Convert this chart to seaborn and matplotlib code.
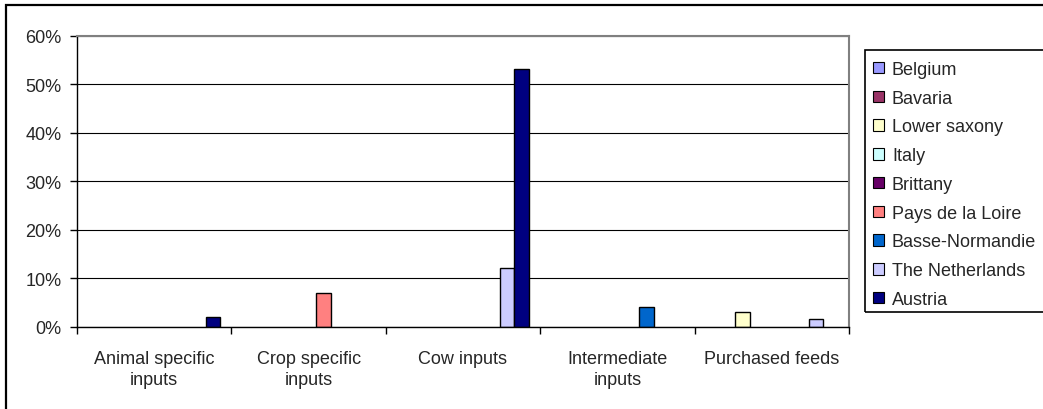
import matplotlib
matplotlib.use("Agg")
import matplotlib.pyplot as plt
from matplotlib.patches import Rectangle
from matplotlib.ticker import FuncFormatter, FixedLocator
import seaborn as sns
import pandas as pd

# ---- data ----
categories = ["Animal specific\ninputs", "Crop specific\ninputs", "Cow inputs",
              "Intermediate\ninputs", "Purchased feeds"]
series = ["Belgium", "Bavaria", "Lower saxony", "Italy", "Brittany",
          "Pays de la Loire", "Basse-Normandie", "The Netherlands", "Austria"]
belgium = [0.0, 0.0, 0.0, 0.0, 0.0]
bavaria = [0.0, 0.0, 0.0, 0.0, 0.0]
lower_saxony = [0.0, 0.0, 0.0, 0.0, 0.030]
italy = [0.0, 0.0, 0.0, 0.0, 0.0]
brittany = [0.0, 0.0, 0.0, 0.0, 0.0]
pays_de_la_loire = [0.0, 0.070, 0.0, 0.0, 0.0]
basse_normandie = [0.0, 0.0, 0.0, 0.041, 0.0]
the_netherlands = [0.0, 0.0, 0.120, 0.0, 0.0145]
austria = [0.019, 0.0, 0.531, 0.0, 0.0]
colors = ["#9999FF", "#993366", "#FFFFCC", "#CCFFFF", "#660066",
          "#FF8080", "#0066CC", "#CCCCFF", "#000080"]
y_ticks = [0.0, 0.1, 0.2, 0.3, 0.4, 0.5, 0.6]

values = [belgium, bavaria, lower_saxony, italy, brittany,
          pays_de_la_loire, basse_normandie, the_netherlands, austria]
rows = []
for s, vals in zip(series, values):
    for c, v in zip(categories, vals):
        rows.append({"category": c, "series": s, "value": v})
df = pd.DataFrame(rows)

sns.set_theme(style="white")
plt.rcParams["font.family"] = ["Liberation Sans", "DejaVu Sans"]
FS = 13

W, H = 1043, 410
fig = plt.figure(figsize=(W / 100, H / 100), dpi=100)
ax_left, ax_right, ax_top, ax_bottom = 77, 849, 37, 327.5
ax = fig.add_axes([ax_left / W, 1 - ax_bottom / H, (ax_right - ax_left) / W,
                   (ax_bottom - ax_top) / H])

sns.barplot(data=df, x="category", y="value", hue="series",
            order=categories, hue_order=series, palette=colors,
            width=9 / 10.5, edgecolor="black", linewidth=1.0,
            saturation=1, ax=ax, legend=True)

# hide outlines of empty (zero-height) bars
for p in ax.patches:
    if abs(p.get_height()) < 1e-12:
        p.set_linewidth(0)

ax.set_ylim(0, 0.6)
ax.set_xlim(-0.5, len(categories) - 0.5)
ax.yaxis.set_major_locator(FixedLocator(y_ticks))
ax.yaxis.set_major_formatter(FuncFormatter(lambda v, p: f"{v * 100:.0f}%"))
ax.set_xlabel("")
ax.set_ylabel("")
ax.set_axisbelow(True)
ax.yaxis.grid(True, color="black", linewidth=0.8)
ax.xaxis.grid(False)

for side in ["left", "bottom"]:
    ax.spines[side].set_color("black")
    ax.spines[side].set_linewidth(1.0)
for side in ["top", "right"]:
    ax.spines[side].set_color("#808080")
    ax.spines[side].set_linewidth(1.5)

ax.tick_params(axis="y", which="major", left=True, length=5, width=1,
               color="black", direction="out", labelsize=FS, pad=6)
ax.set_xticks(range(len(categories)))
ax.set_xticklabels(categories, fontsize=FS, linespacing=1.3)
ax.set_xticks([i - 0.5 for i in range(len(categories) + 1)], minor=True)
ax.tick_params(axis="x", which="major", length=0, pad=17)
ax.tick_params(axis="x", which="minor", bottom=True, length=5, width=1,
               color="black", direction="out")

handles, labels = ax.get_legend_handles_labels()
ax.get_legend().remove()
for h in handles:
    h.set_edgecolor("black")
    h.set_linewidth(0.8)
leg = fig.legend(handles, labels, loc="upper left",
                 bbox_to_anchor=(864 / W, 1 - 53 / H),
                 bbox_transform=fig.transFigure, frameon=False,
                 fontsize=FS, handlelength=0.6, handleheight=0.6,
                 handletextpad=0.45, labelspacing=0.65, borderpad=0)

# legend frame (extends beyond the right edge like the reference)
fig.patches.append(Rectangle((865 / W, 1 - 313 / H), (1080 - 865) / W,
                             (313 - 51) / H, transform=fig.transFigure,
                             fill=False, edgecolor="black", linewidth=1.2))
# outer chart border (top & left visible)
fig.patches.append(Rectangle((6 / W, -0.1), 1.2, 1 - 6 / H + 0.1,
                             transform=fig.transFigure, fill=False,
                             edgecolor="black", linewidth=1.6))

fig.savefig("out.png", dpi=100, facecolor="white")
